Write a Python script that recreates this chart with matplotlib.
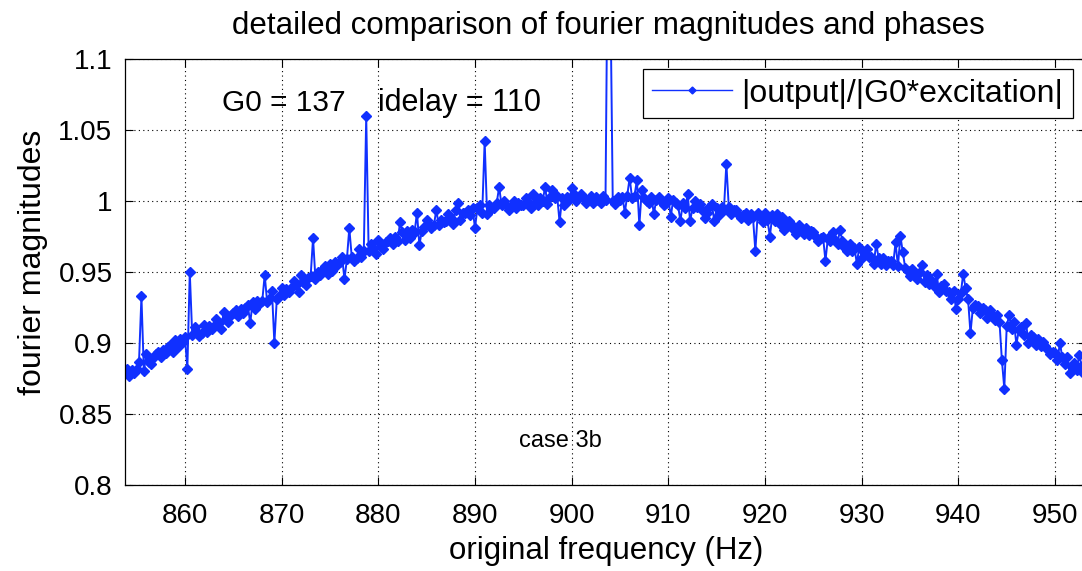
import numpy as np
import matplotlib
matplotlib.use("Agg")
import matplotlib.pyplot as plt
from matplotlib.ticker import FixedLocator, FuncFormatter

plt.rcParams['font.family'] = ['Liberation Sans', 'DejaVu Sans']

# frequency sampling (Hz): 854.00 .. 953.00 in 0.25 Hz steps
freq_start, freq_step = 854.0, 0.25

# |output| / |G0*excitation|, one row per Hz (4 samples)
magnitude = [
    0.882, 0.877, 0.881, 0.879,   # 854
    0.882, 0.887, 0.933, 0.880,   # 855
    0.892, 0.887, 0.885, 0.890,   # 856
    0.892, 0.894, 0.890, 0.895,   # 857
    0.893, 0.897, 0.899, 0.894,   # 858
    0.902, 0.897, 0.903, 0.901,   # 859
    0.904, 0.882, 0.950, 0.906,   # 860
    0.911, 0.908, 0.905, 0.907,   # 861
    0.913, 0.908, 0.912, 0.910,   # 862
    0.912, 0.917, 0.914, 0.910,   # 863
    0.922, 0.917, 0.915, 0.920,   # 864
    0.921, 0.923, 0.919, 0.924,   # 865
    0.921, 0.925, 0.927, 0.914,   # 866
    0.929, 0.924, 0.930, 0.928,   # 867
    0.930, 0.948, 0.929, 0.932,   # 868
    0.937, 0.900, 0.931, 0.933,   # 869
    0.939, 0.934, 0.938, 0.936,   # 870
    0.939, 0.944, 0.941, 0.936,   # 871
    0.948, 0.943, 0.941, 0.946,   # 872
    0.947, 0.974, 0.945, 0.950,   # 873
    0.948, 0.952, 0.954, 0.949,   # 874
    0.956, 0.951, 0.957, 0.955,   # 875
    0.957, 0.961, 0.945, 0.959,   # 876
    0.981, 0.961, 0.958, 0.960,   # 877
    0.966, 0.961, 0.965, 1.060,   # 878
    0.965, 0.970, 0.967, 0.963,   # 879
    0.973, 0.968, 0.966, 0.971,   # 880
    0.972, 0.974, 0.970, 0.975,   # 881
    0.972, 0.985, 0.978, 0.973,   # 882
    0.979, 0.974, 0.980, 0.978,   # 883
    0.992, 0.969, 0.979, 0.982,   # 884
    0.987, 0.984, 0.981, 0.983,   # 885
    0.994, 0.983, 0.987, 0.985,   # 886
    0.986, 0.991, 0.988, 0.984,   # 887
    0.994, 0.999, 0.987, 0.992,   # 888
    0.992, 0.994, 0.990, 0.995,   # 889
    0.981, 0.995, 0.997, 0.992,   # 890
    1.0425, 0.991, 0.997, 0.995,  # 891
    0.995, 0.999, 1.010, 0.997,   # 892
    1.000, 0.997, 0.994, 0.996,   # 893
    1.000, 0.995, 0.999, 0.997,   # 894
    0.997, 1.002, 0.999, 0.995,   # 895
    1.005, 0.999, 0.997, 1.002,   # 896
    1.000, 1.010, 0.998, 1.003,   # 897
    1.008, 1.002, 1.004, 0.985,   # 898
    1.002, 0.997, 1.003, 1.001,   # 899
    1.009, 1.005, 1.000, 1.003,   # 900
    1.005, 1.002, 0.999, 1.001,   # 901
    1.004, 0.999, 1.003, 1.001,   # 902
    0.999, 1.004, 1.001, 1.200,   # 903
    1.150, 1.000, 0.998, 1.003,   # 904
    1.001, 1.003, 0.992, 1.004,   # 905
    1.0165, 1.002, 1.004, 1.015,  # 906
    0.983, 1.008, 1.002, 1.000,   # 907
    0.999, 1.003, 0.991, 1.001,   # 908
    1.003, 1.000, 0.997, 0.999,   # 909
    1.002, 0.989, 1.001, 0.999,   # 910
    0.997, 0.986, 0.999, 0.995,   # 911
    1.005, 0.986, 0.995, 1.000,   # 912
    0.996, 0.998, 0.994, 0.988,   # 913
    0.992, 0.996, 0.998, 0.986,   # 914
    0.995, 0.990, 0.996, 0.994,   # 915
    1.0265, 0.996, 0.991, 0.994,  # 916
    0.994, 0.991, 0.988, 0.990,   # 917
    0.992, 0.987, 0.991, 0.989,   # 918
    0.965, 0.992, 0.989, 0.985,   # 919
    0.992, 0.987, 0.975, 0.990,   # 920
    0.986, 0.991, 0.984, 0.989,   # 921
    0.980, 0.984, 0.986, 0.981,   # 922
    0.982, 0.977, 0.983, 0.981,   # 923
    0.977, 0.981, 0.976, 0.979,   # 924
    0.978, 0.975, 0.972, 0.974,   # 925
    0.975, 0.958, 0.974, 0.972,   # 926
    0.978, 0.973, 0.970, 0.980,   # 927
    0.972, 0.967, 0.965, 0.970,   # 928
    0.965, 0.967, 0.956, 0.968,   # 929
    0.960, 0.964, 0.966, 0.961,   # 930
    0.961, 0.956, 0.970, 0.960,   # 931
    0.956, 0.960, 0.955, 0.958,   # 932
    0.958, 0.955, 0.971, 0.954,   # 933
    0.9756, 0.964, 0.953, 0.951,  # 934
    0.947, 0.952, 0.949, 0.945,   # 935
    0.950, 0.955, 0.943, 0.948,   # 936
    0.942, 0.944, 0.940, 0.949,   # 937
    0.936, 0.940, 0.942, 0.937,   # 938
    0.936, 0.931, 0.937, 0.924,   # 939
    0.931, 0.935, 0.949, 0.9385,  # 940
    0.931, 0.907, 0.925, 0.927,   # 941
    0.926, 0.921, 0.925, 0.923,   # 942
    0.918, 0.923, 0.920, 0.916,   # 943
    0.920, 0.915, 0.888, 0.868,   # 944
    0.912, 0.9197, 0.910, 0.915,  # 945
    0.899, 0.909, 0.911, 0.906,   # 946
    0.914, 0.900, 0.906, 0.904,   # 947
    0.899, 0.903, 0.898, 0.901,   # 948
    0.898, 0.895, 0.892, 0.894,   # 949
    0.893, 0.888, 0.900, 0.890,   # 950
    0.885, 0.890, 0.879, 0.883,   # 951
    0.886, 0.881, 0.8915, 0.884,  # 952
    0.878,                        # 953
]
freq = freq_start + freq_step * np.arange(len(magnitude))

y_ticks = [0.8, 0.85, 0.9, 0.95, 1.0, 1.05, 1.1]
x_ticks = [860, 870, 880, 890, 900, 910, 920, 930, 940, 950]

title_text = "detailed comparison of fourier magnitudes and phases"
legend_label = "|output|/|G0*excitation|"

W, H = 1082, 571
fig = plt.figure(figsize=(W / 100, H / 100), dpi=100)

def fx(px):
    return px / W

def fy(py):
    return 1 - py / H

left_px, right_px, top_px, bot_px = 125, 1086, 59.3, 485
ax = fig.add_axes([fx(left_px), fy(bot_px), (right_px - left_px) / W, (bot_px - top_px) / H])

line_color = '#1030ff'
ax.plot(freq, magnitude, '-', color=line_color, lw=1.4, marker='D', ms=5.2,
        mec=line_color, mfc=line_color, label=legend_label, clip_on=True)

ax.set_xlim(853.8, 953.2)
ax.set_ylim(0.8, 1.1)
ax.xaxis.set_major_locator(FixedLocator(x_ticks))
ax.yaxis.set_major_locator(FixedLocator(y_ticks))
ax.yaxis.set_major_formatter(FuncFormatter(lambda v, p: ('%g' % round(v, 3))))
ax.tick_params(direction='in', length=6, width=0.8, top=True, right=True,
               labelsize=20, colors='black')
ax.tick_params(axis='x', pad=13)
ax.tick_params(axis='y', pad=9)
ax.grid(True, linestyle=(0, (1, 3)), color='black', linewidth=0.8)
for s in ax.spines.values():
    s.set_linewidth(0.9)

fig.text(fx(608), fy(26), title_text, ha='center', va='center', fontsize=22.5)
fig.text(fx(606), fy(551), "original frequency (Hz)", ha='center', va='center', fontsize=22.5)
fig.text(fx(33), fy(262), "fourier magnitudes", ha='center', va='center', rotation=90, fontsize=23)
fig.text(fx(222), fy(103), "G0 = 137", ha='left', va='center', fontsize=21.5)
fig.text(fx(378), fy(103), "idelay = 110", ha='left', va='center', fontsize=22)
fig.text(fx(560), fy(441), "case 3b", ha='center', va='center', fontsize=17)

leg = ax.legend(loc='upper right', bbox_to_anchor=(fx(1073), fy(69)),
                bbox_transform=fig.transFigure, borderaxespad=0, fontsize=23,
                fancybox=False, framealpha=1, edgecolor='black', handlelength=2.5,
                borderpad=0.3, handletextpad=0.3)
leg.get_frame().set_linewidth(0.9)
for h in leg.legend_handles:
    h.set_markersize(3.5)
    h.set_linewidth(1.0)

fig.savefig("out.png", dpi=100)
